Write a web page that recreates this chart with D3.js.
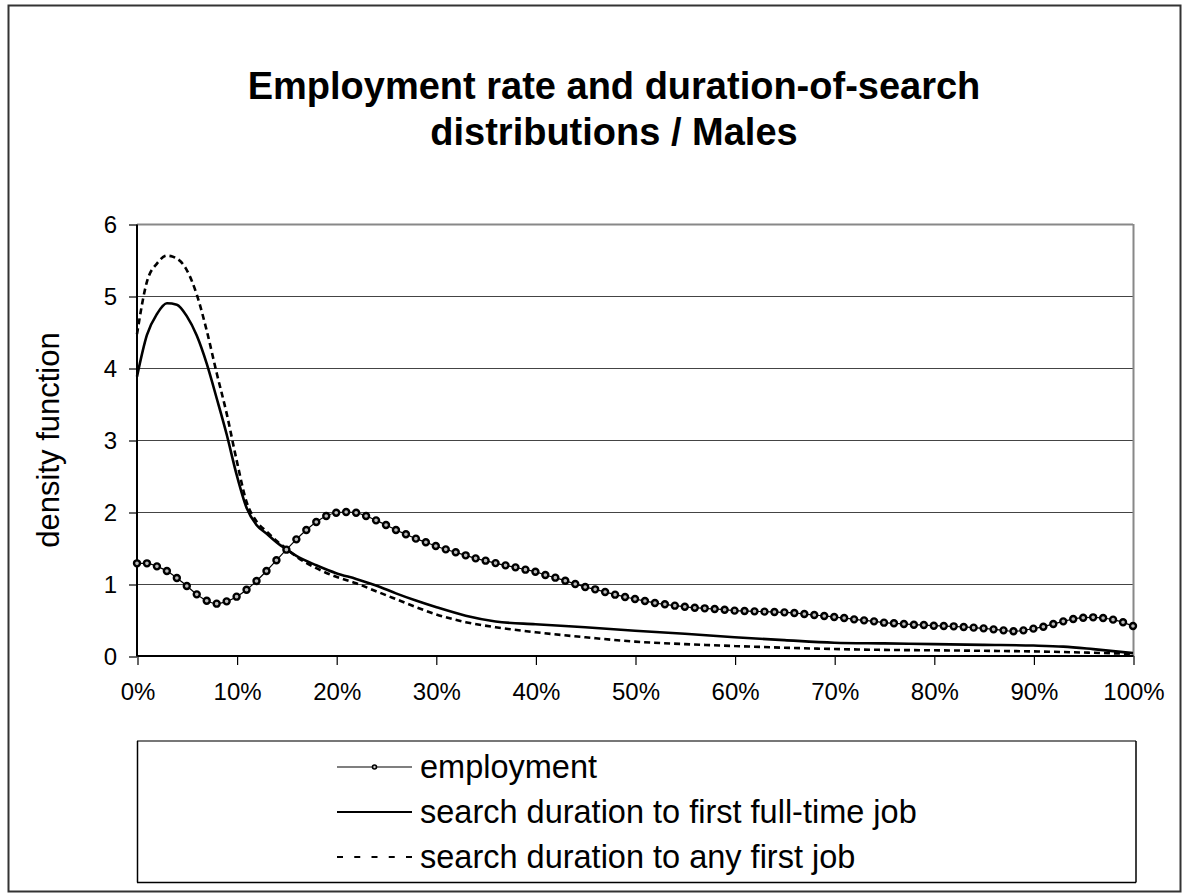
<!DOCTYPE html>
<html>
<head>
<meta charset="utf-8">
<script src="https://cdn.jsdelivr.net/npm/d3@7"></script>
<style>
  html, body { margin: 0; padding: 0; background: #fff; }
  svg { display: block; font-family: Arial, "Liberation Sans", sans-serif; }
</style>
</head>
<body>
<svg id="chart" width="1189" height="896"></svg>
<script>
// Employment-rate density, sampled at every percentage point (0% .. 100%)
const employmentPct = d3.range(0, 101);
const employment = [
  1.287, 1.287, 1.245, 1.180, 1.083, 0.972, 0.856, 0.768, 0.727, 0.759,
  0.824, 0.921, 1.042, 1.180, 1.329, 1.477, 1.620, 1.750, 1.861, 1.944,
  1.990, 2.000, 1.990, 1.944, 1.884, 1.820, 1.750, 1.690, 1.630, 1.579,
  1.528, 1.481, 1.440, 1.398, 1.356, 1.324, 1.290, 1.259, 1.231, 1.199,
  1.171, 1.125, 1.088, 1.046, 1.000, 0.958, 0.926, 0.889, 0.852, 0.819,
  0.792, 0.764, 0.736, 0.718, 0.699, 0.685, 0.671, 0.662, 0.653, 0.643,
  0.630, 0.625, 0.620, 0.616, 0.611, 0.606, 0.597, 0.583, 0.569, 0.556,
  0.542, 0.528, 0.509, 0.495, 0.481, 0.463, 0.454, 0.444, 0.435, 0.431,
  0.421, 0.417, 0.412, 0.403, 0.394, 0.384, 0.370, 0.356, 0.343, 0.356,
  0.380, 0.407, 0.444, 0.481, 0.514, 0.532, 0.537, 0.528, 0.505, 0.468,
  0.417
];

// Search-duration densities
const durationPct = [0, 1, 2, 3, 4, 5, 6, 7, 8, 9, 10, 11, 12, 13, 14, 15, 16, 18, 20, 22,
  24, 26, 28, 30, 33, 36, 40, 45, 50, 55, 60, 65, 70, 75, 80, 85, 90, 93, 96, 100];
const fullTimeJob = [3.88, 4.46, 4.75, 4.90, 4.88, 4.72, 4.45, 4.06, 3.58, 3.08,
  2.52, 2.06, 1.82, 1.70, 1.58, 1.48, 1.39, 1.26, 1.15, 1.07,
  0.98, 0.87, 0.77, 0.68, 0.56, 0.48, 0.44, 0.40, 0.35, 0.31,
  0.26, 0.22, 0.185, 0.175, 0.165, 0.155, 0.145, 0.13, 0.095, 0.04];
const anyFirstJob = [4.47, 5.20, 5.45, 5.56, 5.52, 5.36, 5.02, 4.52, 3.93, 3.37,
  2.72, 2.14, 1.87, 1.73, 1.60, 1.49, 1.38, 1.22, 1.10, 1.01,
  0.90, 0.79, 0.68, 0.58, 0.47, 0.40, 0.33, 0.26, 0.20, 0.165,
  0.139, 0.115, 0.097, 0.085, 0.079, 0.072, 0.064, 0.055, 0.045, 0.028];

const xTicks = [0, 10, 20, 30, 40, 50, 60, 70, 80, 90, 100];
const yTicks = [0, 1, 2, 3, 4, 5, 6];

const titleLines = ["Employment rate and duration-of-search", "distributions / Males"];
const yAxisTitle = "density function";
const legendLabels = ["employment", "search duration to first full-time job", "search duration to any first job"];

const FONT = "Arial, 'Liberation Sans', sans-serif";
const svg = d3.select("#chart");

// outer chart frame
svg.append("rect")
  .attr("x", 8.5).attr("y", 5.5).attr("width", 1172).attr("height", 886)
  .attr("fill", "#fff").attr("stroke", "#333").attr("stroke-width", 2);

// title
svg.append("text")
  .attr("text-anchor", "middle")
  .attr("font-size", 38).attr("font-weight", "bold")
  .selectAll("tspan").data(titleLines).join("tspan")
  .attr("x", 614).attr("y", (d, i) => 99 + i * 46)
  .text(d => d);

const plot = { left: 137, right: 1133, top: 224, bottom: 656 };
const x = d3.scaleLinear().domain([0, 100]).range([plot.left, plot.right]);
const y = d3.scaleLinear().domain([0, 6]).range([plot.bottom, plot.top]);

// horizontal gridlines
svg.append("g").selectAll("line").data(yTicks.filter(v => v > 0)).join("line")
  .attr("x1", plot.left).attr("x2", plot.right)
  .attr("y1", d => y(d) + 0.5).attr("y2", d => y(d) + 0.5)
  .attr("stroke", d => d === 6 ? "#888" : "#444")
  .attr("stroke-width", d => d === 6 ? 2 : 1.2);

// right border of the plot area
svg.append("line")
  .attr("x1", plot.right + 0.5).attr("x2", plot.right + 0.5)
  .attr("y1", plot.top).attr("y2", plot.bottom)
  .attr("stroke", "#888").attr("stroke-width", 2);

// y axis
const yAxis = d3.axisLeft(y).tickValues(yTicks).tickSize(8).tickPadding(12).tickFormat(d3.format("d"));
const gy = svg.append("g").attr("transform", `translate(${plot.left},0.5)`).call(yAxis);
gy.select(".domain").attr("stroke", "#000").attr("stroke-width", 2).attr("d", `M0,${plot.top}V${plot.bottom}`);
gy.selectAll(".tick line").attr("stroke", "#000").attr("stroke-width", 1.2);
gy.selectAll(".tick text").attr("font-size", 24).attr("fill", "#000").attr("font-family", FONT);

// x axis
const xAxis = d3.axisBottom(x).tickValues(xTicks).tickSize(9).tickPadding(18).tickFormat(d => d + "%");
const gx = svg.append("g").attr("transform", `translate(0.5,${plot.bottom})`).call(xAxis);
gx.select(".domain").attr("stroke", "#000").attr("stroke-width", 2).attr("d", `M${plot.left},0H${plot.right}`);
gx.selectAll(".tick line").attr("stroke", "#000").attr("stroke-width", 1.2);
gx.selectAll(".tick text").attr("font-size", 24).attr("fill", "#000").attr("font-family", FONT);

// y axis title
svg.append("text")
  .attr("transform", `translate(48,${(plot.top + plot.bottom) / 2}) rotate(-90)`)
  .attr("text-anchor", "middle").attr("dy", "0.35em").attr("font-size", 31)
  .text(yAxisTitle);

// series lines
const line = d3.line().x(d => x(d[0])).y(d => y(d[1])).curve(d3.curveMonotoneX);

svg.append("path")
  .datum(d3.zip(durationPct, anyFirstJob))
  .attr("d", line).attr("fill", "none")
  .attr("stroke", "#000").attr("stroke-width", 2.6).attr("stroke-dasharray", "6,4");

svg.append("path")
  .datum(d3.zip(durationPct, fullTimeJob))
  .attr("d", line).attr("fill", "none")
  .attr("stroke", "#000").attr("stroke-width", 2.6);

const empData = d3.zip(employmentPct, employment);
svg.append("path")
  .datum(empData)
  .attr("d", line).attr("fill", "none")
  .attr("stroke", "#000").attr("stroke-width", 1.2);

svg.append("g").selectAll("circle").data(empData).join("circle")
  .attr("cx", d => x(d[0])).attr("cy", d => y(d[1]))
  .attr("r", 3).attr("fill", "#bbb").attr("stroke", "#000").attr("stroke-width", 2.4);

// legend
const legend = svg.append("g");
legend.append("line").attr("x1", 137).attr("x2", 1136).attr("y1", 741).attr("y2", 741)
  .attr("stroke", "#777").attr("stroke-width", 2);
legend.append("line").attr("x1", 137).attr("x2", 1136).attr("y1", 882.5).attr("y2", 882.5)
  .attr("stroke", "#000").attr("stroke-width", 1.5);
legend.append("line").attr("x1", 137.5).attr("x2", 137.5).attr("y1", 741).attr("y2", 882.5)
  .attr("stroke", "#000").attr("stroke-width", 1.5);
legend.append("line").attr("x1", 1136).attr("x2", 1136).attr("y1", 741).attr("y2", 882.5)
  .attr("stroke", "#000").attr("stroke-width", 1.5);

const rowY = [767, 812, 857];
const sx0 = 337, sx1 = 412;
// employment sample
legend.append("line").attr("x1", sx0).attr("x2", sx1).attr("y1", rowY[0]).attr("y2", rowY[0])
  .attr("stroke", "#000").attr("stroke-width", 1.2);
legend.append("circle").attr("cx", (sx0 + sx1) / 2).attr("cy", rowY[0]).attr("r", 2)
  .attr("fill", "#ccc").attr("stroke", "#000").attr("stroke-width", 1.6);
// full-time sample
legend.append("line").attr("x1", sx0).attr("x2", sx1).attr("y1", rowY[1]).attr("y2", rowY[1])
  .attr("stroke", "#000").attr("stroke-width", 2.2);
// any-job sample
legend.append("line").attr("x1", sx0).attr("x2", sx1).attr("y1", rowY[2]).attr("y2", rowY[2])
  .attr("stroke", "#000").attr("stroke-width", 1.8).attr("stroke-dasharray", "6,11.25");

legend.selectAll("text.lab").data(legendLabels).join("text")
  .attr("class", "lab")
  .attr("x", 420).attr("y", (d, i) => rowY[i]).attr("dy", "0.35em")
  .attr("font-size", 32.5).text(d => d);
</script>
</body>
</html>
